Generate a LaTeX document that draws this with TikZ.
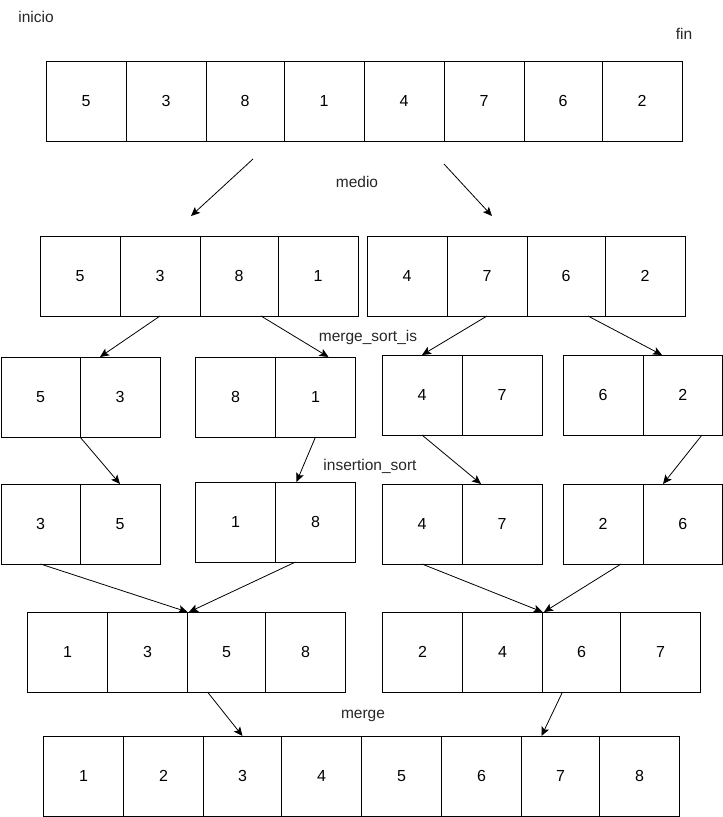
\documentclass[tikz,border=0pt]{standalone}
\usepackage{fontspec}
\setmainfont{Liberation Sans}
\usetikzlibrary{arrows.meta,calc}
\tikzset{
  cell/.style={draw=black, line width=1pt, inner sep=0pt, outer sep=0pt, font=\fontsize{16}{19}\selectfont},
  lbl/.style={inner sep=0pt, font=\fontsize{15.5}{18}\selectfont, text=black!85},
  arr/.style={line width=0.8pt, -{Stealth[length=9pt,width=8pt,inset=2pt]}}
}
\newcommand\cellgroup[4]{%
  \foreach \l/\r/\v [count=\i] in {#4} {
    \node[cell, minimum width=\r pt-\l pt, minimum height=#3 pt-#2 pt] (#1\i) at ({(\l+\r)/2},{(#2+#3)/2}) {\v};
  }}
\begin{document}
\begin{tikzpicture}[x=1pt,y=-1pt]
\useasboundingbox (0,0) rectangle (723,817);
% row a
\cellgroup{a}{61}{141}{46/126/5,126/206/3,206/284/8,284/364/1,364/444/4,444/524/7,524/602/6,602/682/2}
% row b
\cellgroup{bl}{236}{316}{40/120/5,120/200/3,200/278/8,278/358/1}
\cellgroup{br}{236}{316}{367/447/4,447/527/7,527/605/6,605/685/2}
% row c
\cellgroup{cA}{357}{437}{1/80/5,80/160/3}
\cellgroup{cB}{357}{437}{195.5/275.5/8,275.5/355.5/1}
\cellgroup{cC}{355}{435}{382/462/4,462/542/7}
\cellgroup{cD}{355}{435}{563/643/6,643/722.5/2}
% row d
\cellgroup{dA}{484}{564}{1/80/3,80/160/5}
\cellgroup{dB}{482}{562}{195.5/275.5/1,275.5/355.5/8}
\cellgroup{dC}{484}{564}{382/462/4,462/542/7}
\cellgroup{dD}{484}{564}{563/643/2,643/722.5/6}
% row e
\cellgroup{el}{612}{692}{27.5/107.5/1,107.5/187.5/3,187.5/265.5/5,265.5/345.5/8}
\cellgroup{er}{612}{692}{382.5/462.5/2,462.5/542.5/4,542.5/620.5/6,620.5/700.5/7}
% row f
\cellgroup{f}{736}{816}{43.5/123.5/1,123.5/203.5/2,203.5/281.5/3,281.5/361.5/4,361.5/441.5/5,441.5/521.5/6,521.5/599.5/7,599.5/679.5/8}
% labels
\node[lbl] (inicio) at (36,17) {inicio};
\node[lbl] (fin) at (684,34) {fin};
\node[lbl] (medio) at (357,182) {medio};
\node[lbl] (msi) at (368,337) {merge\_sort\_is};
\node[lbl] (ins) at (370,466) {insertion\_sort};
\node[lbl] (mrg) at (363,716) {merge};
% free arrow ends
\coordinate (s1) at (253,159);
\coordinate (e1) at (191,216);
\coordinate (s2) at (444,164);
\coordinate (e2) at (492,216);
% arrows
\draw[arr] (s1) -- (e1);
\draw[arr] (s2) -- (e2);
\draw[arr] (bl2.south) -- ([xshift=20]cA2.north west);
\draw[arr] ([xshift=61]bl3.south west) -- ([xshift=53]cB2.north west);
\draw[arr] (br2.south) -- (cC1.north);
\draw[arr] ([xshift=61]br3.south west) -- ([xshift=19]cD2.north west);
\draw[arr] (cA1.south east) -- (dA2.north);
\draw[arr] (cB2.south) -- ([xshift=21]dB2.north west);
\draw[arr] (cC1.south) -- ([xshift=19]dC2.north west);
\draw[arr] ([xshift=59]cD2.south west) -- ([xshift=20]dD2.north west);
\draw[arr] (dA1.south) -- (el3.north west);
\draw[arr] ([xshift=20]dB2.south west) -- ([xshift=1.5]el3.north west);
\draw[arr] (dC1.south) -- (er3.north west);
\draw[arr] ([xshift=58]dD1.south west) -- ([xshift=1.5]er3.north west);
\draw[arr] ([xshift=20]el3.south west) -- (f3.north);
\draw[arr] ([xshift=20]er3.south west) -- ([xshift=20]f7.north west);
\end{tikzpicture}
\end{document}
